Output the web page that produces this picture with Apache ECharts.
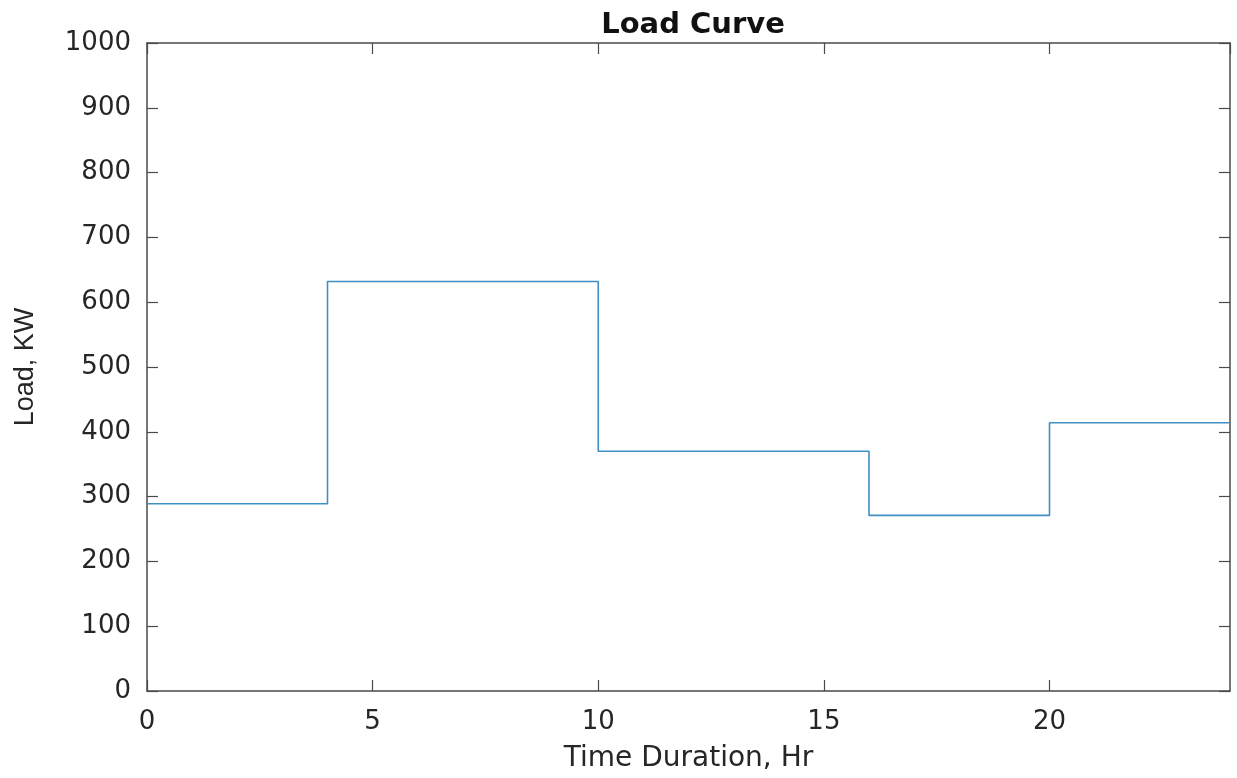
<!DOCTYPE html>
<html style="height: 100%">
<head>
    <meta charset="UTF-8">
    <title>Load Curve</title>
    <script src="https://cdn.jsdelivr.net/npm/echarts@6/dist/echarts.min.js"></script>
</head>
<body style="height: 100%; margin: 0; background: #fff">
    <div id="main" style="width: 1237px; height: 778px;"></div>
    <script>
        // step points: hour where each load level starts, load in KW
        var hours = [0, 4, 10, 16, 20, 24];
        var loads = [289, 632, 370, 271, 414, 414];

        var xTicks = { min: 0, max: 24, interval: 5 };
        var yTicks = { min: 0, max: 1000, interval: 100 };

        var axisColor = '#4a4a4a';
        var textColor = '#262626';
        var font = 'DejaVu Sans';

        var myChart = echarts.init(document.getElementById('main'));

        var points = hours.map(function (h, i) { return [h, loads[i]]; });

        function boxAxis(pos, isX) {
            return {
                type: 'value',
                position: pos,
                min: isX ? xTicks.min : yTicks.min,
                max: isX ? xTicks.max : yTicks.max,
                interval: isX ? xTicks.interval : yTicks.interval,
                axisLine: { show: true, onZero: false, lineStyle: { color: axisColor, width: 1.5 } },
                axisTick: { show: true, inside: true, length: 11, lineStyle: { color: axisColor, width: 1.2 } },
                axisLabel: { show: false },
                splitLine: { show: false }
            };
        }

        var option = {
            animation: false,
            backgroundColor: '#ffffff',
            title: {
                text: 'Load Curve',
                left: 688,
                textAlign: 'center',
                top: 6,
                textStyle: { fontFamily: font, fontWeight: 'bold', fontSize: 29, color: '#111' }
            },
            grid: { left: 147, right: 7, top: 43, bottom: 87 },
            xAxis: [
                Object.assign(boxAxis('bottom', true), {
                    name: 'Time Duration, Hr',
                    nameLocation: 'middle',
                    nameGap: 54,
                    nameTextStyle: { fontFamily: font, fontSize: 28, color: textColor },
                    axisLabel: { show: true, margin: 18, showMaxLabel: false, fontFamily: font, fontSize: 26, color: textColor }
                }),
                boxAxis('top', true)
            ],
            yAxis: [
                Object.assign(boxAxis('left', false), {
                    name: 'Load, KW',
                    nameLocation: 'middle',
                    nameGap: 108,
                    nameTextStyle: { fontFamily: 'Liberation Sans', fontSize: 27, color: textColor },
                    axisLabel: {
                        show: true, margin: 16, fontFamily: font, fontSize: 26, color: textColor,
                        formatter: function (v) { return String(v); }
                    }
                }),
                boxAxis('right', false)
            ],
            series: [{
                type: 'line',
                step: 'end',
                data: points,
                showSymbol: false,
                lineStyle: { color: '#3f8fc4', width: 1.6 }
            }]
        };

        myChart.setOption(option);
    </script>
</body>
</html>
